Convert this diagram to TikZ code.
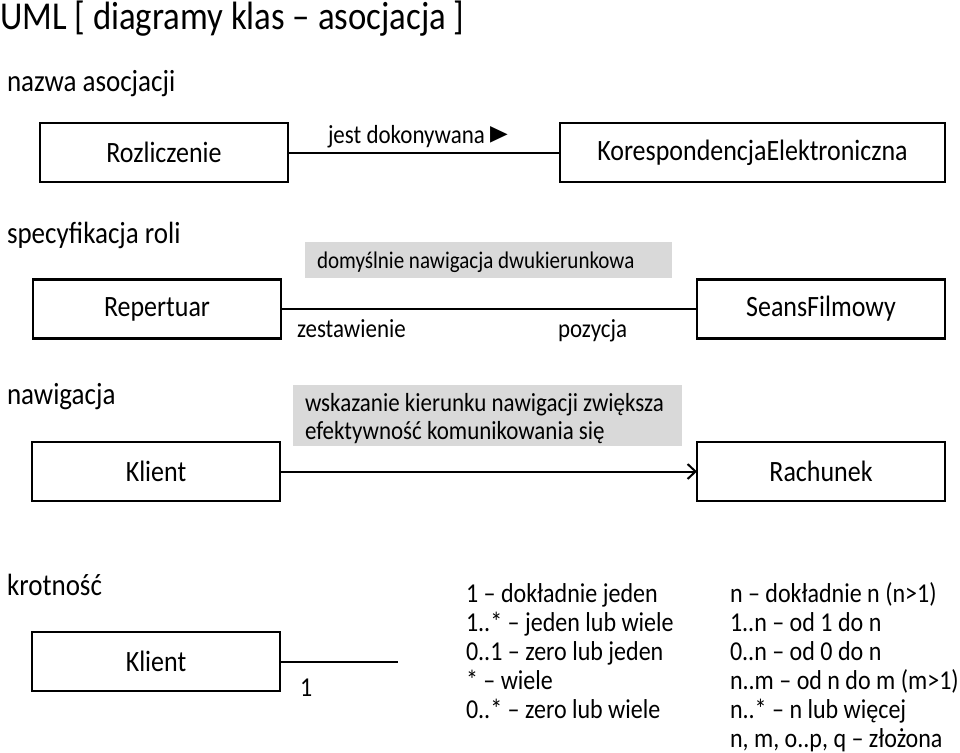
\documentclass[tikz,border=0pt]{standalone}
\usepackage{fontspec}
\setmainfont{Carlito}[FakeStretch=0.88]
\newfontfamily\trifont{DejaVu Sans}
\usetikzlibrary{arrows.meta}
\definecolor{cd9d9d9}{RGB}{217,217,217}

\begin{document}
\begin{tikzpicture}[y=1pt, x=1pt, yscale=-1, inner sep=0pt, outer sep=0pt,
  klasa/.style={draw=black, line width=2.4pt, minimum width=248pt,
    minimum height=59pt, font=\fontsize{29.5}{34}\selectfont},
  opis/.style={anchor=base west, font=\fontsize{30.7}{36}\selectfont},
  mala/.style={anchor=base west, font=\fontsize{26.1}{31}\selectfont},
  notka/.style={anchor=base west, font=\fontsize{23.9}{28}\selectfont},
  lista/.style={anchor=base west, font=\fontsize{27.3}{32}\selectfont},
  linia/.style={draw=black, line width=2pt}]
\useasboundingbox (0,0) rectangle (960,752);

  \path (0,29.5) node[anchor=base west, font=\fontsize{39.5}{46}\selectfont]
    (text-tytul) {UML [ diagramy klas – asocjacja ]};

  % nazwa asocjacji
  \path (7,91) node[opis] (text-nazwa) {nazwa asocjacji};
  \node[klasa] (rect-rozliczenie) at (164,152.5) {Rozliczenie};
  \node[klasa, minimum width=385pt] (rect-koresp) at (752.5,152.5)
    {KorespondencjaElektroniczna};
  \draw[linia] (rect-rozliczenie.east) -- (rect-koresp.west);
  \path (328,143) node[mala] (text-jest)
    {jest dokonywana {\trifont\fontsize{23}{28}\selectfont\scalebox{1}[1.45]{►}}};

  % specyfikacja roli
  \path (7,243) node[opis] (text-spec) {specyfikacja roli};
  \path[fill=cd9d9d9] (305,242) rectangle (672,278);
  \path (317,268) node[notka] (text-domyslnie)
    {domyślnie nawigacja dwukierunkowa};
  \node[klasa] (rect-repertuar) at (157,309) {Repertuar};
  \node[klasa] (rect-seans) at (821,309) {SeansFilmowy};
  \draw[linia] (rect-repertuar.east) -- (rect-seans.west);
  \path (297,337) node[mala] (text-zestawienie) {zestawienie};
  \path (558,337) node[mala] (text-pozycja) {pozycja};

  % nawigacja
  \path (7,404) node[opis] (text-nawigacja) {nawigacja};
  \path[fill=cd9d9d9] (293,385) rectangle (682,446);
  \path (305,411) node[mala] (text-wskazanie)
    {wskazanie kierunku nawigacji zwiększa};
  \path (305,439) node[mala] (text-efektywnosc)
    {efektywność komunikowania się};
  \node[klasa] (rect-klient) at (156,471.5) {Klient};
  \node[klasa] (rect-rachunek) at (821,471.5) {Rachunek};
  \draw[linia, -{Straight Barb[length=8pt,width=15pt,line width=2pt]}]
    (rect-klient.east) -- (rect-rachunek.west);

  % krotnosc
  \path (7,595) node[opis] (text-krotnosc) {krotność};
  \node[klasa] (rect-klient2) at (156,661.5) {Klient};
  \coordinate (koniec) at (398,661.5);
  \draw[linia] (rect-klient2.east) -- (koniec);
  \path (300,696) node[lista] (text-jeden) {1};

  \path (466,602) node[lista] (text-k1) {1 – dokładnie jeden};
  \path (466,631) node[lista] (text-k2) {1..* – jeden lub wiele};
  \path (466,660) node[lista] (text-k3) {0..1 – zero lub jeden};
  \path (466,689) node[lista] (text-k4) {* – wiele};
  \path (466,718) node[lista] (text-k5) {0..* – zero lub wiele};

  \path (730,602) node[lista] (text-n1) {n – dokładnie n (n>1)};
  \path (730,631) node[lista] (text-n2) {1..n – od 1 do n};
  \path (730,660) node[lista] (text-n3) {0..n – od 0 do n};
  \path (730,689) node[lista] (text-n4) {n..m – od n do m (m>1)};
  \path (730,718) node[lista] (text-n5) {n..* – n lub więcej};
  \path (730,747) node[lista] (text-n6) {n, m, o..p, q – złożona};

\end{tikzpicture}
\end{document}
